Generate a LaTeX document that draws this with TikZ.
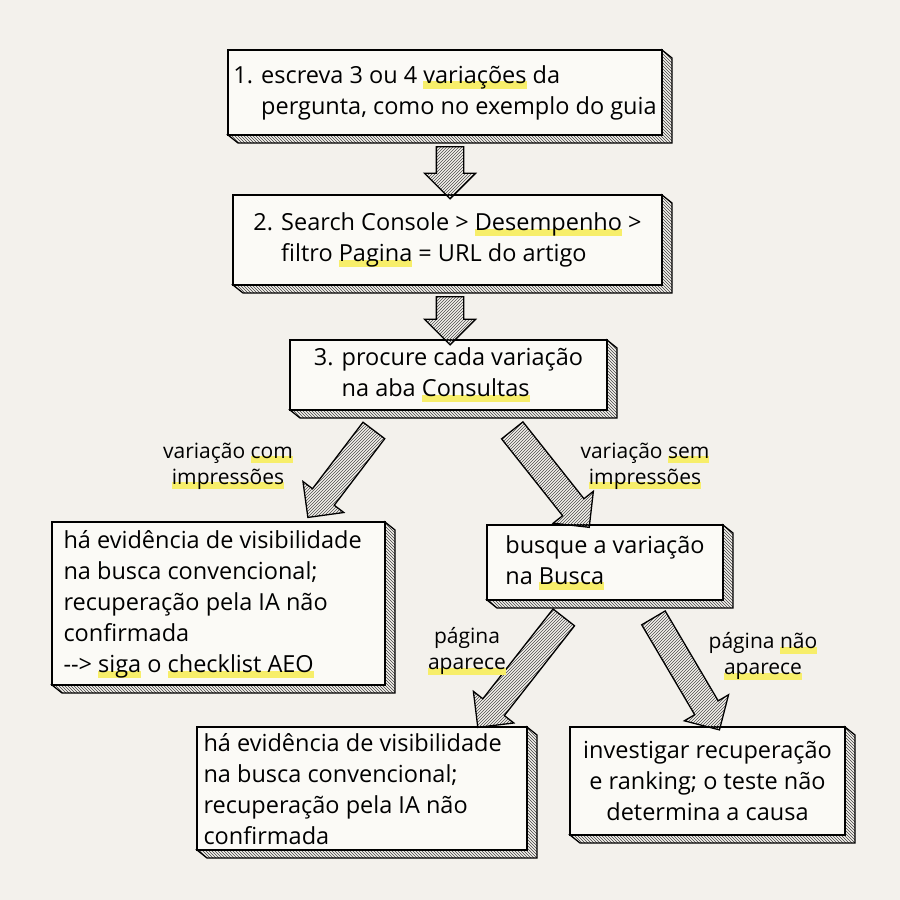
\documentclass[tikz,border=0pt]{standalone}
\usepackage{fontspec}
\setmainfont{Open Sans}
\usetikzlibrary{shapes.arrows,patterns,calc}
\definecolor{bg}{HTML}{F3F1EC}
\definecolor{bx}{HTML}{FBFAF6}
\definecolor{hly}{HTML}{F7EE6A}
\newsavebox\hlbox
\newcommand\hlw[1]{\sbox\hlbox{#1}\rlap{\textcolor{hly}{\rule[-0.45ex]{\wd\hlbox}{0.6ex}}}\usebox\hlbox}
\tikzset{
 lbl/.style={font=\fontsize{21}{26}\selectfont, align=center, inner sep=2pt},
 txt/.style={font=\fontsize{23.5}{31}\selectfont},
 blk/.style={single arrow, draw=black, line width=1.3pt, pattern=north east lines, pattern color=black!70,
   inner xsep=0pt, inner ysep=13pt, single arrow head extend=12pt, single arrow tip angle=90, anchor=center}
}
\newcommand\skbox[5]{% name,x1,y1,x2,y2
 \fill[bx] (#2,#3) rectangle (#4,#5);
 \draw[line width=1.3pt, pattern=north west lines, pattern color=black!75] (#4,#3) -- (#4+10,#3+8) -- (#4+10,#5+8) -- (#2+10,#5+8) -- (#2,#5) -- (#4,#5) -- cycle;
 \draw[line width=1.6pt,fill=bx] (#2,#3) rectangle (#4,#5);
 \coordinate (#1) at ($(#2,#3)!0.5!(#4,#5)$);
}
\newcommand\barrow[2]{%
 \path let \p1=($(#2)-(#1)$), \n1={atan2(\y1,\x1)}, \n2={veclen(\x1,\y1)} in
  node[blk, rotate=\n1, minimum height=\n2] at ($(#1)!0.5!(#2)$) {};
}
\begin{document}
\begin{tikzpicture}[x=1pt,y=-1pt]
\fill[bg] (0,0) rectangle (900,900);
\useasboundingbox (0,0) rectangle (900,900);
\skbox{b1}{228}{50}{662}{135}
\node[txt, align=left] (t1) at (b1) {1. escreva 3 ou 4 \hlw{variações} da\\\hphantom{1. }pergunta, como no exemplo do guia};
\skbox{b2}{233}{195}{662}{285}
\node[txt, align=left] (t2) at (b2) {2. Search Console > \hlw{Desempenho} >\\\hphantom{2. }filtro \hlw{Pagina} = URL do artigo};
\skbox{b3}{290}{340}{607}{410}
\node[txt, align=left] (t3) at (b3) {3. procure cada variação\\\hphantom{3. }na aba \hlw{Consultas}};
\skbox{b4}{52}{522}{385}{685}
\node[txt, align=left, anchor=north west] (t4) at (60,527) {há evidência de visibilidade\\na busca convencional;\\recuperação pela IA não\\confirmada\\ {-}{-}> \hlw{siga} o \hlw{checklist AEO}};
\skbox{b5}{487}{525}{723}{600}
\node[txt, align=left] (t5) at (b5) {busque a variação\\na \hlw{Busca}};
\skbox{b6}{197}{727}{527}{850}
\node[txt, align=left, anchor=north west] (t6) at (200,730) {há evidência de visibilidade\\na busca convencional;\\recuperação pela IA não\\confirmada};
\skbox{b7}{570}{727}{845}{835}
\node[txt, align=center] (t7) at (b7) {investigar recuperação\\e ranking; o teste não\\determina a causa};
\coordinate (a1s) at (450,140); \coordinate (a1e) at (450,192);
\coordinate (a2s) at (450,290); \coordinate (a2e) at (450,338);
\coordinate (a3s) at (378,425); \coordinate (a3e) at (312,512);
\coordinate (a4s) at (508,425); \coordinate (a4e) at (585,522);
\coordinate (a5s) at (568,612); \coordinate (a5e) at (482,722);
\coordinate (a6s) at (650,612); \coordinate (a6e) at (716,724);
\barrow{a1s}{a1e}\barrow{a2s}{a2e}\barrow{a3s}{a3e}\barrow{a4s}{a4e}\barrow{a5s}{a5e}\barrow{a6s}{a6e}
\node[lbl] (l1) at (228,466) {variação \hlw{com}\\\hlw{impressões}};
\node[lbl] (l2) at (645,466) {variação \hlw{sem}\\\hlw{impressões}};
\node[lbl] (l3) at (467,651) {página\\\hlw{aparece}};
\node[lbl] (l4) at (763,656) {página \hlw{não}\\\hlw{aparece}};
\end{tikzpicture}
\end{document}
